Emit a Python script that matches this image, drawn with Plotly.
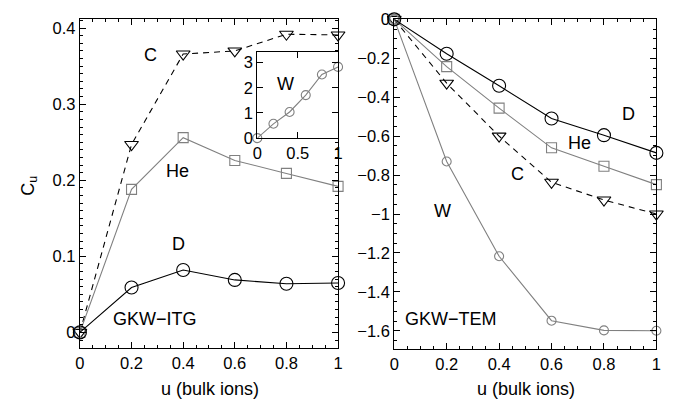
import plotly.graph_objects as go

u = [0, 0.2, 0.4, 0.6, 0.8, 1.0]

# Left panel (GKW-ITG)
itg_D = [0, 0.059, 0.082, 0.069, 0.064, 0.065]
itg_He = [0, 0.188, 0.256, 0.226, 0.209, 0.192]
itg_C = [0, 0.247, 0.366, 0.370, 0.392, 0.391]
itg_W = [0, 0.57, 1.04, 1.71, 2.53, 2.83]  # inset

# Right panel (GKW-TEM)
tem_D = [0, -0.177, -0.341, -0.509, -0.595, -0.686]
tem_He = [0, -0.243, -0.456, -0.660, -0.755, -0.849]
tem_C = [0, -0.328, -0.600, -0.837, -0.928, -1.0]
tem_W = [0, -0.730, -1.217, -1.548, -1.598, -1.600]

left_xticks = [0, 0.2, 0.4, 0.6, 0.8, 1]
left_yticks = [0, 0.1, 0.2, 0.3, 0.4]
right_yticks = [0, -0.2, -0.4, -0.6, -0.8, -1, -1.2, -1.4, -1.6]
inset_xticks = [0, 0.5, 1]
inset_yticks = [0, 1, 2, 3]

GREY = "#808080"
BLACK = "#000000"
FONT = "Liberation Sans"

fig = go.Figure()

def add(x, y, xa, ya, color, symbol, size, dash="solid", lw=1.1):
    fig.add_trace(go.Scatter(
        x=x, y=y, xaxis=xa, yaxis=ya, mode="lines+markers",
        line=dict(color=color, width=lw, dash=dash),
        marker=dict(symbol=symbol, size=size, color=color,
                    line=dict(color=color, width=1.1)),
        showlegend=False, cliponaxis=False))

# left
add(u, itg_C, "x", "y", BLACK, "triangle-down-open", 12, dash="6px,5px")
add(u, itg_He, "x", "y", GREY, "square-open", 10)
add(u, itg_D, "x", "y", BLACK, "circle-open", 13)
# inset
add(u, itg_W, "x3", "y3", GREY, "circle-open", 9)
# right
add(u, tem_C, "x2", "y2", BLACK, "triangle-down-open", 12, dash="6px,5px")
add(u, tem_W, "x2", "y2", GREY, "circle-open", 9)
add(u, tem_He, "x2", "y2", GREY, "square-open", 10)
add(u, tem_D, "x2", "y2", BLACK, "circle-open", 13)

tickfont = dict(family=FONT, size=16.5, color="black")
common = dict(showline=True, linecolor="black", linewidth=1.2, mirror="allticks",
              ticks="inside", ticklen=6, tickcolor="black", showgrid=False,
              zeroline=False, tickfont=tickfont)

fig.update_layout(
    width=686, height=416,
    margin=dict(l=0, r=0, t=0, b=0),
    paper_bgcolor="white", plot_bgcolor="white",
    xaxis=dict(domain=[0.1108, 0.4927], range=[0, 1], anchor="y",
               tickvals=left_xticks, ticktext=["0", "0.2", "0.4", "0.6", "0.8", "1"],
               minor=dict(ticks="inside", dtick=0.05, ticklen=3, tickcolor="black"), **common),
    yaxis=dict(domain=[0.149, 0.976], range=[-0.0201, 0.4126], anchor="x",
               tickvals=left_yticks, ticktext=["0", "0.1", "0.2", "0.3", "0.4"],
               minor=dict(ticks="inside", dtick=0.01, ticklen=3, tickcolor="black"), **common),
    xaxis2=dict(domain=[0.5758, 0.9636], range=[0, 1], anchor="y2",
                tickvals=left_xticks, ticktext=["0", "0.2", "0.4", "0.6", "0.8", "1"],
                minor=dict(ticks="inside", dtick=0.05, ticklen=3, tickcolor="black"), **common),
    yaxis2=dict(domain=[0.145, 0.974], range=[-1.695, 0.0], anchor="x2",
                tickvals=right_yticks,
                ticktext=["0", "\u22120.2", "\u22120.4", "\u22120.6", "\u22120.8", "\u22121",
                          "\u22121.2", "\u22121.4", "\u22121.6"],
                minor=dict(ticks="inside", dtick=0.05, ticklen=3, tickcolor="black"), **common),
    xaxis3=dict(domain=[0.3732, 0.4927], range=[0, 1], anchor="y3",
                tickvals=inset_xticks, ticktext=["0", "0.5", "1"], **common),
    yaxis3=dict(domain=[0.6755, 0.8918], range=[0, 3.42], anchor="x3",
                tickvals=inset_yticks, ticktext=["0", "1", "2", "3"], **common),
)

def note(x, y, text, size=18, angle=0):
    fig.add_annotation(x=x / 686, y=1 - y / 416, xref="paper", yref="paper",
                       text=text, showarrow=False, textangle=angle,
                       font=dict(family=FONT, size=size, color="black"),
                       xanchor="center", yanchor="middle")

note(148, 48, "C")
note(175, 169, "He")
note(176, 246, "D")
note(152, 324, "GKW\u2212ITG")
note(285, 78, "W")
note(633, 110, "D")
note(583, 140, "He")
note(520, 172, "C")
note(444, 211, "W")
note(453, 324, "GKW\u2212TEM")
note(208, 397, "u (bulk ions)")
note(529, 397, "u (bulk ions)")
note(25, 185, "C<sub>u</sub>", size=18, angle=-90)

fig.write_html("out.html")
